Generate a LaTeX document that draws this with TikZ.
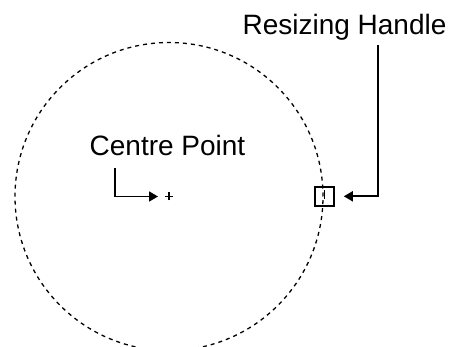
\documentclass[tikz,border=0pt]{standalone}
\usepackage{fontspec}
\setmainfont{Liberation Sans}
\usetikzlibrary{arrows.meta}
\begin{document}
\begin{tikzpicture}[x=1pt,y=-1pt,
  lbl/.style={anchor=base,inner sep=0pt,font=\fontsize{28}{32}\selectfont},
  conn/.style={line width=1.7pt,-{Triangle[length=9pt,width=10pt]}},
  handlebox/.style={draw,line width=1.6pt,minimum size=19pt,inner sep=0pt},
  ring/.style={line width=1.3pt,dash pattern=on 4pt off 4pt}]
\useasboundingbox (0,0) rectangle (453,347);
\coordinate (cp) at (169,196.5);
\draw[ring] (cp) circle[radius=154pt];
\draw[line width=1.1pt] ([xshift=-4pt]cp) -- ([xshift=4pt]cp) ([yshift=-4pt]cp) -- ([yshift=4pt]cp);
\node[handlebox] (handle) at (324.5,196.3) {};
\draw[line width=1.5pt] (handle.center) ++(0,-6) -- ++(0,9);
\node[lbl] (cplabel) at (167.5,156) {Centre Point};
\node[lbl] (rhlabel) at (344.5,35) {Resizing Handle};
\coordinate (cpstart) at (115,168);
\coordinate (rhstart) at (378,45);
\draw[conn,shorten >=11pt] (cpstart) |- (cp);
\draw[conn,shorten >=9pt] (rhstart) |- (handle.east);
\end{tikzpicture}
\end{document}
